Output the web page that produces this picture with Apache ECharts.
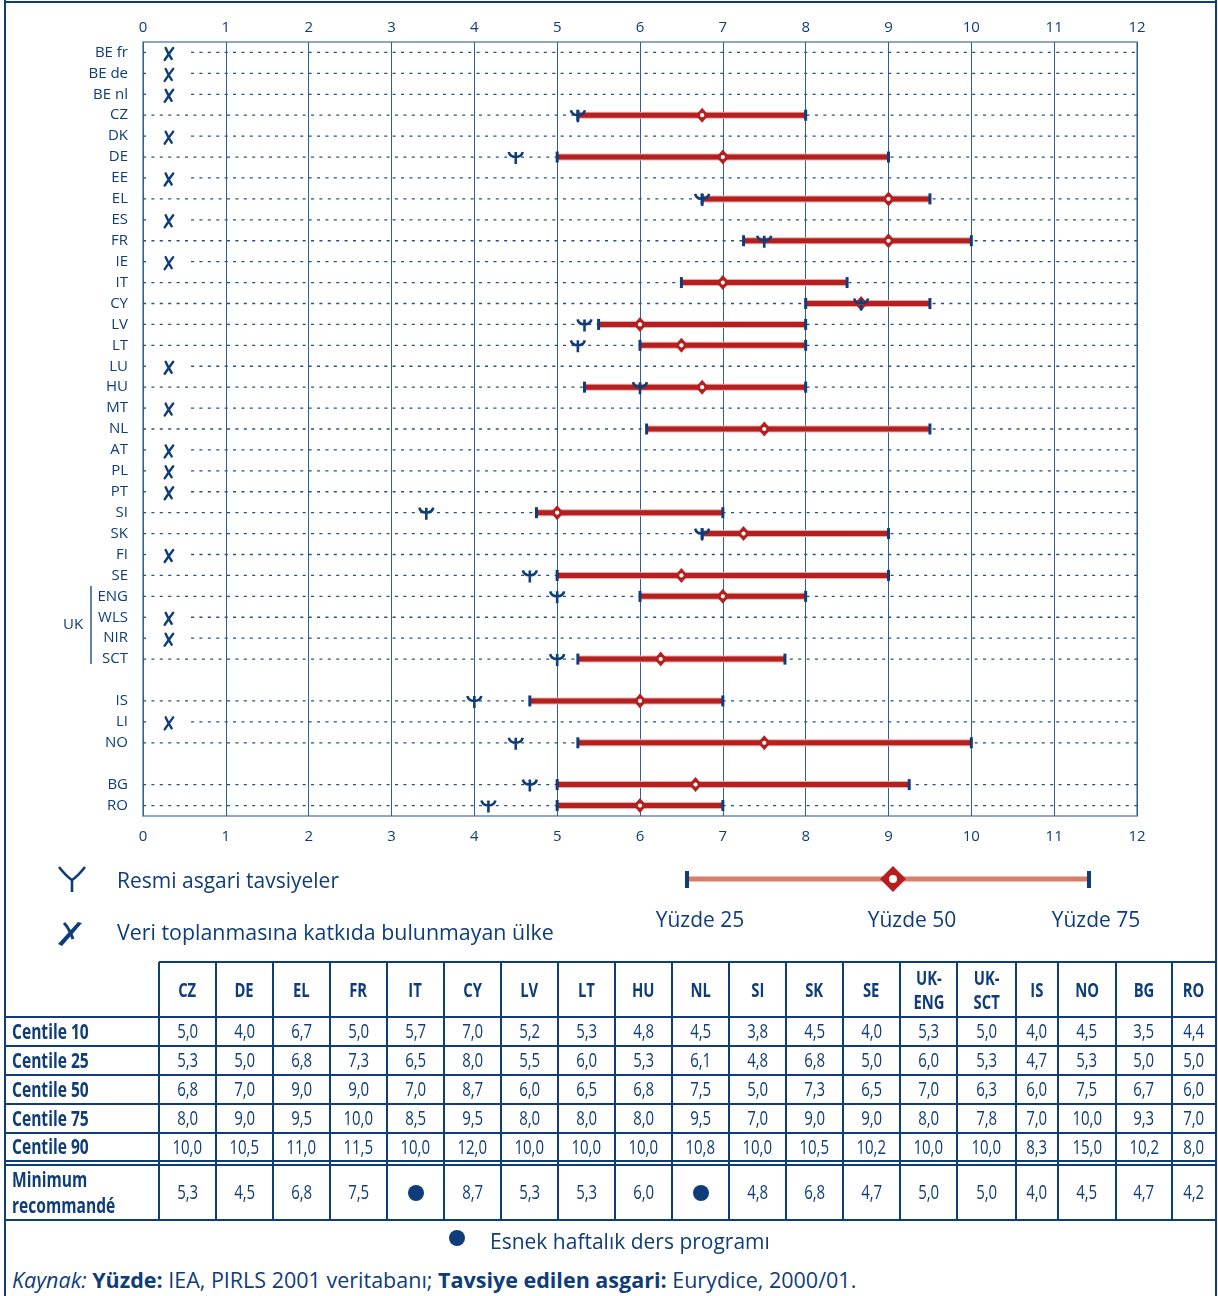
<!DOCTYPE html>
<html>
<head>
<meta charset="utf-8">
<script src="https://cdn.jsdelivr.net/npm/echarts@6/dist/echarts.min.js"></script>
<style>
  html, body { margin:0; padding:0; background:#fff; }
  #page { position:relative; width:1218px; height:1296px; overflow:hidden; font-family:"Open Sans", sans-serif; color:#0e3d7a; }
  #chart { position:absolute; left:0; top:0; width:1218px; height:960px; }
  .ln { position:absolute; background:#0e3d7a; }
  .cell { position:absolute; display:flex; align-items:center; justify-content:center; text-align:center;
          font-family:"Open Sans", sans-serif; font-size:19.5px; line-height:1.15; color:#0e3d7a; }
  .cell span { display:inline-block; transform:scaleX(0.77); transform-origin:center; white-space:nowrap; }
  .hdr { font-weight:bold; font-size:20px; }
  .hdr span { transform:scaleX(0.74); line-height:1.2; }
  .rowlab { position:absolute; display:flex; align-items:center; left:12px; font-weight:bold; font-size:20.5px; line-height:1.25;
          font-family:"Open Sans", sans-serif; color:#0e3d7a; }
  .rowlab span { display:inline-block; transform:scaleX(0.76); transform-origin:left center; white-space:nowrap; }
  .txt { position:absolute; white-space:nowrap; color:#0e3d7a; }
</style>
</head>
<body>
<div id="page">
  <div id="chart"></div>
</div>
<script>
// ---------------- DATA ----------------
const categories = ['BE fr','BE de','BE nl','CZ','DK','DE','EE','EL','ES','FR','IE','IT','CY','LV','LT','LU','HU','MT','NL','AT','PL','PT','SI','SK','FI','SE','ENG','WLS','NIR','SCT',' ','IS','LI','NO','  ','BG','RO'];
const noDataRows = ['BE fr','BE de','BE nl','DK','EE','ES','IE','LU','MT','AT','PL','PT','FI','WLS','NIR','LI'];
const gapRows = [' ','  '];

// values (hours)
const chartCountries = ['CZ','DE','EL','FR','IT','CY','LV','LT','HU','NL','SI','SK','SE','ENG','SCT','IS','NO','BG','RO'];
const chartP25 = [5.25,5.0,6.75,7.25,6.5,8.0,5.5,6.0,5.33,6.08,4.75,6.75,5.0,6.0,5.25,4.67,5.25,5.0,5.0];
const chartP50 = [6.75,7.0,9.0,9.0,7.0,8.67,6.0,6.5,6.75,7.5,5.0,7.25,6.5,7.0,6.25,6.0,7.5,6.67,6.0];
const chartP75 = [8.0,9.0,9.5,10.0,8.5,9.5,8.0,8.0,8.0,9.5,7.0,9.0,9.0,8.0,7.75,7.0,10.0,9.25,7.0];
const chartMin = [5.25,4.5,6.75,7.5,null,8.67,5.33,5.25,6.0,null,3.42,6.75,4.67,5.0,5.0,4.0,4.5,4.67,4.17];

const xTicks = [0,1,2,3,4,5,6,7,8,9,10,11,12];

// table
const tableCountries = ['CZ','DE','EL','FR','IT','CY','LV','LT','HU','NL','SI','SK','SE','UK-<br>ENG','UK-<br>SCT','IS','NO','BG','RO'];
const centile10 = [5.0,4.0,6.7,5.0,5.7,7.0,5.2,5.3,4.8,4.5,3.8,4.5,4.0,5.3,5.0,4.0,4.5,3.5,4.4];
const centile25 = [5.3,5.0,6.8,7.3,6.5,8.0,5.5,6.0,5.3,6.1,4.8,6.8,5.0,6.0,5.3,4.7,5.3,5.0,5.0];
const centile50 = [6.8,7.0,9.0,9.0,7.0,8.7,6.0,6.5,6.8,7.5,5.0,7.3,6.5,7.0,6.3,6.0,7.5,6.7,6.0];
const centile75 = [8.0,9.0,9.5,10.0,8.5,9.5,8.0,8.0,8.0,9.5,7.0,9.0,9.0,8.0,7.8,7.0,10.0,9.3,7.0];
const centile90 = [10.0,10.5,11.0,11.5,10.0,12.0,10.0,10.0,10.0,10.8,10.0,10.5,10.2,10.0,10.0,8.3,15.0,10.2,8.0];
const minRecommended = [5.3,4.5,6.8,7.5,null,8.7,5.3,5.3,6.0,null,4.8,6.8,4.7,5.0,5.0,4.0,4.5,4.7,4.2];
const rowLabels = ['Centile 10','Centile 25','Centile 50','Centile 75','Centile 90'];
const minLabel = 'Minimum<br>recommandé';

const legendMin = 'Resmi asgari tavsiyeler';
const legendNoData = 'Veri toplanmasına katkıda bulunmayan ülke';
const legendPct = ['Yüzde 25','Yüzde 50','Yüzde 75'];
const flexNote = 'Esnek haftalık ders programı';

// ---------------- STYLE ----------------
const BLUE = '#0e3d7a';
const RED = '#b51f1f';
const FONT = '"Open Sans", sans-serif';

// ---------------- CHART ----------------
const rowData = categories.map((c, i) => [i, noDataRows.indexOf(c) >= 0 ? 1 : 0]).filter(d => gapRows.indexOf(categories[d[0]]) < 0);
const rangeData = chartCountries.map((c, i) => [categories.indexOf(c), chartP25[i], chartP50[i], chartP75[i]]);
const minData = chartCountries.map((c, i) => [categories.indexOf(c), chartMin[i]]).filter(d => d[1] !== null);

const chart = echarts.init(document.getElementById('chart'), null, { renderer: 'canvas' });

function renderRow(params, api) {
  const y = api.value(0);
  const isX = api.value(1) === 1;
  const end = api.coord([12, y]);
  const children = [];
  if (isX) {
    const s = api.coord([0, y]);
    const g = api.coord([0.58, y]);
    children.push({ type:'line', shape:{ x1:s[0], y1:s[1], x2:s[0]+3, y2:s[1] }, style:{ stroke:'#24508a', lineWidth:1.3 } });
    children.push({ type:'line', shape:{ x1:g[0], y1:g[1], x2:end[0], y2:end[1] }, style:{ stroke:'#24508a', lineWidth:1.3, lineDash:[3,5.4] } });
    const xm = api.coord([0.31, y]);
    children.push({ type:'path', x:xm[0], y:xm[1]+1.5,
      shape:{ pathData:'M-3,-6 Q-1,-1 3,5 M4.5,-6 Q0,0 -4,6' },
      style:{ stroke:BLUE, lineWidth:2.4, fill:null, lineCap:'round' } });
  } else {
    const s = api.coord([0, y]);
    children.push({ type:'line', shape:{ x1:s[0], y1:s[1], x2:end[0], y2:end[1] }, style:{ stroke:'#24508a', lineWidth:1.3, lineDash:[3,5.4] } });
  }
  return { type:'group', children };
}

function renderRange(params, api) {
  const y = api.value(0);
  const a = api.coord([api.value(1), y]);
  const m = api.coord([api.value(2), y]);
  const b = api.coord([api.value(3), y]);
  return { type:'group', children:[
    { type:'line', shape:{ x1:a[0], y1:a[1], x2:b[0], y2:b[1] }, style:{ stroke:'#e9aeab', lineWidth:7 } },
    { type:'line', shape:{ x1:a[0], y1:a[1], x2:b[0], y2:b[1] }, style:{ stroke:RED, lineWidth:5 } },
    { type:'rect', shape:{ x:a[0]-1.5, y:a[1]-5.5, width:3, height:11 }, style:{ fill:BLUE } },
    { type:'rect', shape:{ x:b[0]-1.5, y:b[1]-5.5, width:3, height:11 }, style:{ fill:BLUE } },
    { type:'polygon', shape:{ points:[[m[0], m[1]-7.5],[m[0]+6.5, m[1]],[m[0], m[1]+7.5],[m[0]-6.5, m[1]]] }, style:{ fill:RED } },
    { type:'circle', shape:{ cx:m[0], cy:m[1], r:2.1 }, style:{ fill:'#fff' } }
  ]};
}

function renderMin(params, api) {
  const y = api.value(0);
  const p = api.coord([api.value(1), y]);
  return { type:'path', x:p[0], y:p[1],
    shape:{ pathData:'M-7,-5 C-6,-1 -3,0 0,0 C3,0 6,-1 7,-5 M0,-5 L0,7' },
    style:{ stroke:BLUE, lineWidth:2.6, fill:null } };
}

const axisLabelStyle = { color:BLUE, fontSize:15, fontFamily:FONT };

const option = {
  animation:false,
  grid:{ left:143, top:42, width:994, height:774, show:true, borderColor:'#6a8bb3', borderWidth:1.5 },
  xAxis:[
    { type:'value', min:0, max:12, interval:1, position:'top', gridIndex:0,
      axisLine:{ show:false }, axisTick:{ show:false },
      axisLabel:Object.assign({ margin:7, formatter:v => xTicks.indexOf(v) >= 0 ? String(v) : '' }, axisLabelStyle),
      splitLine:{ show:true, lineStyle:{ color:'#2f5f98', width:1 } } },
    { type:'value', min:0, max:12, interval:1, position:'bottom', gridIndex:0,
      axisLine:{ show:false }, axisTick:{ show:false },
      axisLabel:Object.assign({ margin:13, formatter:v => xTicks.indexOf(v) >= 0 ? String(v) : '' }, axisLabelStyle),
      splitLine:{ show:false } }
  ],
  yAxis:{ type:'category', data:categories, inverse:true,
    axisLine:{ show:false }, axisTick:{ show:false }, splitLine:{ show:false },
    axisLabel:Object.assign({ margin:15, interval:0 }, axisLabelStyle) },
  series:[
    { type:'custom', xAxisIndex:0, renderItem:renderRow, data:rowData, encode:{ y:0 }, silent:true, clip:false },
    { type:'custom', xAxisIndex:0, renderItem:renderRange, data:rangeData, encode:{ y:0, x:[1,2,3] }, silent:true },
    { type:'custom', xAxisIndex:0, renderItem:renderMin, data:minData, encode:{ y:0, x:1 }, silent:true }
  ],
  graphic:[
    // UK bracket
    { type:'line', shape:{ x1:91, y1:586, x2:91, y2:664 }, style:{ stroke:BLUE, lineWidth:1.3 } },
    { type:'text', x:73, y:625, style:{ text:'UK', fill:BLUE, font:'15px ' + FONT, align:'center', verticalAlign:'middle' } },
    // legend: min recommended (Y shape)
    { type:'bezierCurve', shape:{ x1:59, y1:867, cpx1:66, cpy1:876, x2:72, y2:880 }, style:{ stroke:BLUE, lineWidth:2.6, fill:null } },
    { type:'bezierCurve', shape:{ x1:85, y1:867, cpx1:78, cpy1:876, x2:72, y2:880 }, style:{ stroke:BLUE, lineWidth:2.6, fill:null } },
    { type:'line', shape:{ x1:72, y1:879, x2:72, y2:892 }, style:{ stroke:BLUE, lineWidth:2.6 } },
    { type:'text', x:117, y:882, style:{ text:legendMin, fill:BLUE, font:'21px ' + FONT, verticalAlign:'middle' } },
    // legend: no data (x mark)
    { type:'polygon', shape:{ points:[[58,944],[62,946],[82,923],[78,922]] }, style:{ fill:BLUE } },
    { type:'bezierCurve', shape:{ x1:64, y1:923, cpx1:69, cpy1:928, x2:73, y2:939 }, style:{ stroke:BLUE, lineWidth:3, fill:null } },
    { type:'text', x:117, y:934, style:{ text:legendNoData, fill:BLUE, font:'21.4px ' + FONT, verticalAlign:'middle' } },
    // legend: percentile range
    { type:'line', shape:{ x1:687, y1:879, x2:1089, y2:879 }, style:{ stroke:'#d77f68', lineWidth:5 } },
    { type:'rect', shape:{ x:685, y:871, width:4, height:17 }, style:{ fill:BLUE } },
    { type:'rect', shape:{ x:1087, y:871, width:4, height:17 }, style:{ fill:BLUE } },
    { type:'polygon', shape:{ points:[[893,866],[906,879],[893,892],[880,879]] }, style:{ fill:RED } },
    { type:'circle', shape:{ cx:893, cy:879, r:4 }, style:{ fill:'#fff' } },
    { type:'text', x:700, y:921, style:{ text:legendPct[0], fill:BLUE, font:'21px ' + FONT, align:'center', verticalAlign:'middle' } },
    { type:'text', x:912, y:921, style:{ text:legendPct[1], fill:BLUE, font:'21px ' + FONT, align:'center', verticalAlign:'middle' } },
    { type:'text', x:1096, y:921, style:{ text:legendPct[2], fill:BLUE, font:'21px ' + FONT, align:'center', verticalAlign:'middle' } }
  ]
};
chart.setOption(option);

// ---------------- TABLE (HTML) ----------------
const page = document.getElementById('page');
const T = 2.2;
function hline(x1, x2, y) { const d = document.createElement('div'); d.className='ln'; d.style.left=x1+'px'; d.style.top=(y-T/2)+'px'; d.style.width=(x2-x1)+'px'; d.style.height=T+'px'; page.appendChild(d); }
function vline(x, y1, y2, t) { t = t || T; const d = document.createElement('div'); d.className='ln'; d.style.left=(x-t/2)+'px'; d.style.top=y1+'px'; d.style.width=t+'px'; d.style.height=(y2-y1)+'px'; page.appendChild(d); }
function cell(x1, x2, y1, y2, html, cls) { const d = document.createElement('div'); d.className='cell ' + (cls||''); d.style.left=x1+'px'; d.style.top=y1+'px'; d.style.width=(x2-x1)+'px'; d.style.height=(y2-y1)+'px'; d.innerHTML='<span>' + html + '</span>'; page.appendChild(d); }
function fmt(v) { return v.toFixed(1).replace('.', ','); }

// outer frame
vline(5, 0, 1296, 2.5); vline(1216, 0, 1296, 2.5); hline(4, 1217, 2);

const colEdges = [159,216,273,330,387,444,501,558,615,672,729,786,843,900,957,1016,1058,1116,1172,1216];
const rowEdges = [1017,1046,1075,1104,1133,1161];
const headerTop = 962, minTop = 1165, minBottom = 1220;

hline(159, 1216, headerTop);
rowEdges.forEach(y => hline(5, 1216, y));
hline(5, 1216, minTop);
hline(5, 1216, minBottom);
colEdges.forEach((x, i) => { if (i < colEdges.length - 1) vline(x, headerTop, minBottom); });

const series = [centile10, centile25, centile50, centile75, centile90];
tableCountries.forEach((c, i) => {
  const x1 = colEdges[i], x2 = colEdges[i+1];
  cell(x1, x2, headerTop, rowEdges[0], c, 'hdr');
  series.forEach((arr, r) => cell(x1, x2, rowEdges[r], rowEdges[r+1], fmt(arr[i])));
  const mv = minRecommended[i];
  if (mv === null) {
    const d = document.createElement('div');
    const cx = (x1 + x2) / 2, cy = (minTop + minBottom) / 2;
    d.style.cssText = 'position:absolute;width:16px;height:16px;border-radius:50%;background:#0e3d7a;left:' + (cx-8) + 'px;top:' + (cy-8) + 'px';
    page.appendChild(d);
  } else {
    cell(x1, x2, minTop, minBottom, fmt(mv));
  }
});
rowLabels.forEach((l, r) => {
  const d = document.createElement('div'); d.className='rowlab'; d.style.top=rowEdges[r]+'px'; d.style.height=(rowEdges[r+1]-rowEdges[r])+'px'; d.innerHTML='<span>' + l + '</span>'; page.appendChild(d);
});
{ const d = document.createElement('div'); d.className='rowlab'; d.style.top=minTop+'px'; d.style.height=(minBottom-minTop)+'px'; d.innerHTML='<span>' + minLabel + '</span>'; page.appendChild(d); }

// footnotes
{ const dot = document.createElement('div'); dot.style.cssText='position:absolute;left:449px;top:1230px;width:16px;height:16px;border-radius:50%;background:#0e3d7a'; page.appendChild(dot);
  const t = document.createElement('div'); t.className='txt'; t.style.cssText+='left:490px;top:1226px;font-size:21px;line-height:30px;'; t.textContent=flexNote; page.appendChild(t);
  const k = document.createElement('div'); k.className='txt'; k.style.cssText+='left:12px;top:1265px;font-size:21.5px;line-height:30px;';
  k.innerHTML='<i>Kaynak:</i> <b>Yüzde:</b> IEA, PIRLS 2001 veritabanı; <b>Tavsiye edilen asgari:</b> Eurydice, 2000/01.'; page.appendChild(k); }
</script>
</body>
</html>
